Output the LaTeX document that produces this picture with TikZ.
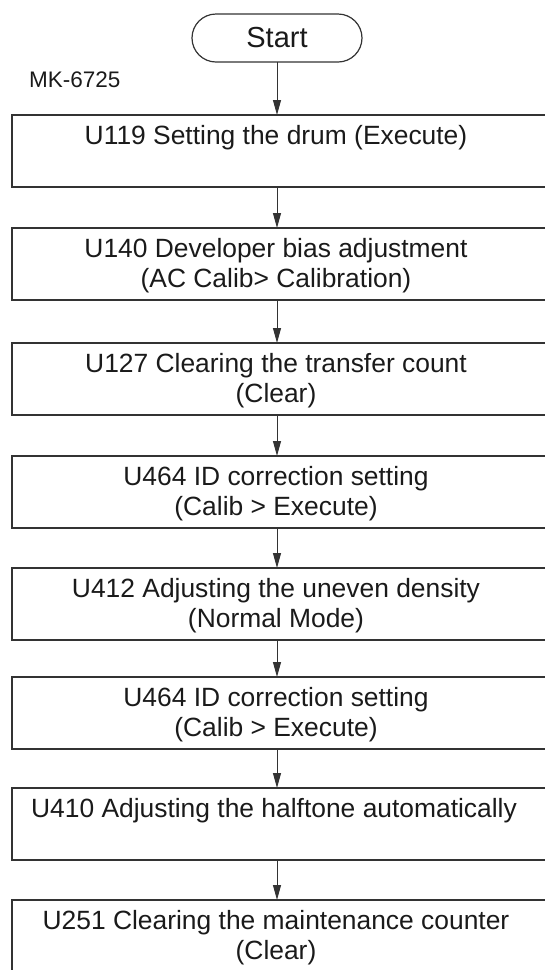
\documentclass[tikz,border=0pt]{standalone}
\usepackage{fontspec}
\setmainfont{Liberation Sans}
\usetikzlibrary{arrows.meta}
\definecolor{linec}{HTML}{333333}
\definecolor{textc}{HTML}{1A1A1A}
\begin{document}
\begin{tikzpicture}[x=1pt,y=-1pt,
  boxst/.style={draw=linec, line width=1.8pt, minimum width=540pt, minimum height=72pt,
    anchor=north west, inner sep=0pt, outer sep=0pt},
  startst/.style={draw=linec, line width=1.2pt, rounded corners=24pt, minimum width=170pt,
    minimum height=48pt, inner sep=0pt, outer sep=0pt, text=textc,
    font=\fontsize{29}{33}\selectfont},
  txt/.style={inner sep=0pt, anchor=base, text=textc, font=\fontsize{26.4}{30}\selectfont},
  lbl/.style={inner sep=0pt, anchor=base west, text=textc, font=\fontsize{22.5}{26}\selectfont},
  arr/.style={draw=linec, line width=1pt, -{Triangle[length=15pt,width=8pt]}}
]
\useasboundingbox (0,0) rectangle (545,970);
\clip (0,0) rectangle (545,970);

\node[startst] (s) at (277,38) {Start};
\node[lbl] (mk) at (29,87) {MK-6725};

\node[boxst] (b1) at (12,115) {};
\node[boxst] (b2) at (12,228) {};
\node[boxst] (b3) at (12,343) {};
\node[boxst] (b4) at (12,456) {};
\node[boxst] (b5) at (12,568) {};
\node[boxst] (b6) at (12,677) {};
\node[boxst] (b7) at (12,788) {};
\node[boxst] (b8) at (12,900) {};

\node[txt] (t1) at (276,144) {U119 Setting the drum (Execute)};
\node[txt] (t2a) at (276,257) {U140 Developer bias adjustment};
\node[txt] (t2b) at (276,287) {(AC Calib> Calibration)};
\node[txt] (t3a) at (276,372) {U127 Clearing the transfer count};
\node[txt] (t3b) at (276,402) {(Clear)};
\node[txt] (t4a) at (276,485) {U464 ID correction setting};
\node[txt] (t4b) at (276,515) {(Calib > Execute)};
\node[txt] (t5a) at (276,597) {U412 Adjusting the uneven density};
\node[txt] (t5b) at (276,627) {(Normal Mode)};
\node[txt] (t6a) at (276,706) {U464 ID correction setting};
\node[txt] (t6b) at (276,736) {(Calib > Execute)};
\node[txt] (t7) at (274,817) {U410 Adjusting the halftone automatically};
\node[txt] (t8a) at (276,929) {U251 Clearing the maintenance counter};
\node[txt] (t8b) at (276,959) {(Clear)};

\draw[arr] (s.south) -- (b1.north -| s.south);
\draw[arr] (b1.south -| s.south) -- (b2.north -| s.south);
\draw[arr] (b2.south -| s.south) -- (b3.north -| s.south);
\draw[arr] (b3.south -| s.south) -- (b4.north -| s.south);
\draw[arr] (b4.south -| s.south) -- (b5.north -| s.south);
\draw[arr] (b5.south -| s.south) -- (b6.north -| s.south);
\draw[arr] (b6.south -| s.south) -- (b7.north -| s.south);
\draw[arr] (b7.south -| s.south) -- (b8.north -| s.south);
\end{tikzpicture}
\end{document}
